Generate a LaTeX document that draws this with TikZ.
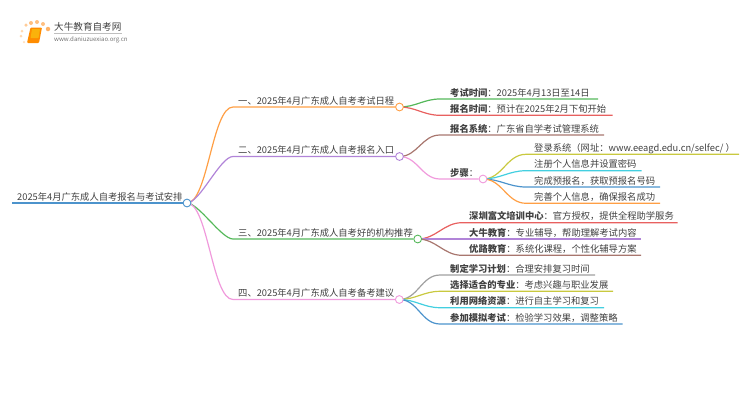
\documentclass[tikz,border=0pt]{standalone}
\usepackage{xcolor}
\usepackage{fontspec}
\setmainfont{Noto Sans CJK SC}
\usepackage{tikz}
\usetikzlibrary{backgrounds}
\definecolor{corange}{HTML}{FF9F45}
\definecolor{cpurple}{HTML}{B184D8}
\definecolor{cgreen}{HTML}{55B85A}
\definecolor{cpink}{HTML}{F09ADC}
\definecolor{cblue}{HTML}{4C93CC}
\definecolor{cred}{HTML}{E8605F}
\definecolor{cbrown}{HTML}{A8766E}
\definecolor{colive}{HTML}{C9C93F}
\definecolor{ccyan}{HTML}{43CFE0}
\definecolor{cgrey}{HTML}{A0A0A0}
\definecolor{ctext}{HTML}{404040}
\tikzstyle{hub} = [circle, draw, fill = white, line width = 0.9pt, minimum size = 7.8pt, inner sep = 0pt]
\tikzstyle{txt} = [anchor = base west, inner sep = 0pt, yshift = -0.5pt, text = ctext, font = \fontsize{9.3}{11}\selectfont]
\tikzstyle{wire} = [line width = 1.2pt]
\tikzstyle{big} = [out = 0, in = 180, looseness = 0.5]
\tikzstyle{small} = [out = 0, in = 180]

\begin{document}
\begin{tikzpicture}[x = 1pt, y = -1pt]
\useasboundingbox (0, 0) rectangle (750, 410);
% logo
\node [circle, fill = orange!60, inner sep = 0pt, minimum size = 4.5pt] (D1) at (48, 29) {};
\node [circle, fill = orange!50, inner sep = 0pt, minimum size = 4pt] (D2) at (43, 24) {};
\node [circle, fill = orange!50, inner sep = 0pt, minimum size = 4pt] (D3) at (37, 22) {};
\node [circle, fill = orange!50, inner sep = 0pt, minimum size = 4pt] (D4) at (31, 23) {};
\node [circle, fill = orange!40, inner sep = 0pt, minimum size = 3.5pt] (D5) at (26, 25) {};
\node [circle, fill = orange!30, inner sep = 0pt, minimum size = 3pt] (D6) at (22, 31) {};
\node [circle, fill = orange!30, inner sep = 0pt, minimum size = 3pt] (D7) at (21, 36) {};
\node [circle, fill = orange!25, inner sep = 0pt, minimum size = 2.5pt] (D8) at (24, 42) {};
\fill [orange!90!yellow, rounded corners = 1pt] (30.5, 27.5) -- (42, 27.5) -- (39, 43) -- (27, 43) -- cycle;
\fill [yellow!40!orange, rounded corners = 0.5pt] (32, 29) -- (40, 29) -- (38.5, 38) -- (30.5, 38) -- cycle;
\node [anchor = base west, inner sep = 0pt, text = black!75, font = \fontsize{9.6}{11}\selectfont] (LogoA) at (54, 30.5) {大牛教育自考网};
\node [anchor = base west, inner sep = 0pt, text = black!55, font = \fontsize{6.1}{7}\selectfont] (LogoB) at (54, 41) {www.daniuzuexiao.org.cn};
\coordinate (LogoC) at (54, 33);
\coordinate (LogoD) at (122, 33);
\draw [black!25, line width = 0.5pt] (LogoC) -- (LogoD);
% root
\node [hub, draw = cblue] (R) at (187, 203) {};
\coordinate (R0) at (12, 203);
\node [txt] (Rt) at (17, 199.5) {2025年4月广东成人自考报名与考试安排};
% branches
\node [hub, draw = corange] (B1) at (399.5, 107) {};
\coordinate (B1a) at (233, 107);
\node [txt] (B1t) at (238, 103.5) {一、2025年4月广东成人自考考试日程};
\node [hub, draw = cpurple] (B2) at (399.5, 156.5) {};
\coordinate (B2a) at (233, 156.5);
\node [txt] (B2t) at (238, 153) {二、2025年4月广东成人自考报名入口};
\node [hub, draw = cgreen] (B3) at (417.7, 239) {};
\coordinate (B3a) at (233, 239);
\node [txt] (B3t) at (238, 235.5) {三、2025年4月广东成人自考好的机构推荐};
\node [hub, draw = cpink] (B4) at (399.3, 299.5) {};
\coordinate (B4a) at (233, 299.5);
\node [txt] (B4t) at (238, 296) {四、2025年4月广东成人自考备考建议};
% leaves of first branch
\coordinate (A1a) at (440, 99);
\coordinate (A1b) at (598, 99);
\node [txt] (A1) at (450, 95.5) {{\bfseries 考试时间}：2025年4月13日至14日};
\coordinate (A2a) at (440, 115.3);
\coordinate (A2b) at (612.7, 115.3);
\node [txt] (A2) at (450, 111.8) {{\bfseries 报名时间}：预计在2025年2月下旬开始};
% leaves of second branch
\coordinate (C1a) at (440, 135);
\coordinate (C1b) at (604, 135);
\node [txt] (C1) at (450, 131.5) {{\bfseries 报名系统}：广东省自学考试管理系统};
\node [hub, draw = cpink] (S) at (483, 179) {};
\coordinate (C2a) at (440, 179);
\node [txt] (C2) at (450, 175.5) {{\bfseries 步骤}：};
\coordinate (S1a) at (526, 154.3);
\coordinate (S1b) at (739, 154.3);
\node [txt] (S1) at (534, 150.8) {登录系统（网址：www.eeagd.edu.cn/selfec/ ）};
\coordinate (S2a) at (526, 170.7);
\coordinate (S2b) at (641.7, 170.7);
\node [txt] (S2) at (534, 167.2) {注册个人信息并设置密码};
\coordinate (S3a) at (526, 187);
\coordinate (S3b) at (660, 187);
\node [txt] (S3) at (534, 183.5) {完成预报名，获取预报名号码};
\coordinate (S4a) at (526, 203.3);
\coordinate (S4b) at (660, 203.3);
\node [txt] (S4) at (534, 199.8) {完善个人信息，确保报名成功};
% leaves of third branch
\coordinate (E1a) at (462, 222.7);
\coordinate (E1b) at (677.7, 222.7);
\node [txt] (E1) at (469, 219.2) {{\bfseries 深圳富文培训中心}：官方授权，提供全程助学服务};
\coordinate (E2a) at (462, 239);
\coordinate (E2b) at (641, 239);
\node [txt] (E2) at (469, 235.5) {{\bfseries 大牛教育}：专业辅导，帮助理解考试内容};
\coordinate (E3a) at (462, 255.3);
\coordinate (E3b) at (641, 255.3);
\node [txt] (E3) at (469, 251.8) {{\bfseries 优路教育}：系统化课程，个性化辅导方案};
% leaves of fourth branch
\coordinate (F1a) at (440, 275);
\coordinate (F1b) at (595, 275);
\node [txt] (F1) at (450, 271.5) {{\bfseries 制定学习计划}：合理安排复习时间};
\coordinate (F2a) at (440, 291.3);
\coordinate (F2b) at (613, 291.3);
\node [txt] (F2) at (450, 287.8) {{\bfseries 选择适合的专业}：考虑兴趣与职业发展};
\coordinate (F3a) at (440, 307.7);
\coordinate (F3b) at (604, 307.7);
\node [txt] (F3) at (450, 304.2) {{\bfseries 利用网络资源}：进行自主学习和复习};
\coordinate (F4a) at (440, 324);
\coordinate (F4b) at (622.7, 324);
\node [txt] (F4) at (450, 320.5) {{\bfseries 参加模拟考试}：检验学习效果，调整策略};
% connectors
\begin{scope}[on background layer]
\draw [wire, draw = cblue] (R0) -- (R);
\draw [wire, draw = corange] (R.center) to [big] (B1a) -- (B1);
\draw [wire, draw = cpurple] (R.center) to [big] (B2a) -- (B2);
\draw [wire, draw = cgreen] (R.center) to [big] (B3a) -- (B3);
\draw [wire, draw = cpink] (R.center) to [big] (B4a) -- (B4);
\draw [wire, draw = cgreen] (B1.center) to [small] (A1a) -- (A1b);
\draw [wire, draw = cred] (B1.center) to [small] (A2a) -- (A2b);
\draw [wire, draw = cbrown] (B2.center) to [small] (C1a) -- (C1b);
\draw [wire, draw = cpink] (B2.center) to [small] (C2a) -- (S);
\draw [wire, draw = colive] (S.center) to [small] (S1a) -- (S1b);
\draw [wire, draw = ccyan] (S.center) to [small] (S2a) -- (S2b);
\draw [wire, draw = cblue] (S.center) to [small] (S3a) -- (S3b);
\draw [wire, draw = corange] (S.center) to [small] (S4a) -- (S4b);
\draw [wire, draw = cred] (B3.center) to [small] (E1a) -- (E1b);
\draw [wire, draw = cpurple] (B3.center) to [small] (E2a) -- (E2b);
\draw [wire, draw = cbrown] (B3.center) to [small] (E3a) -- (E3b);
\draw [wire, draw = cgrey] (B4.center) to [small] (F1a) -- (F1b);
\draw [wire, draw = colive] (B4.center) to [small] (F2a) -- (F2b);
\draw [wire, draw = ccyan] (B4.center) to [small] (F3a) -- (F3b);
\draw [wire, draw = cblue] (B4.center) to [small] (F4a) -- (F4b);
\end{scope}
\end{tikzpicture}
\end{document}
